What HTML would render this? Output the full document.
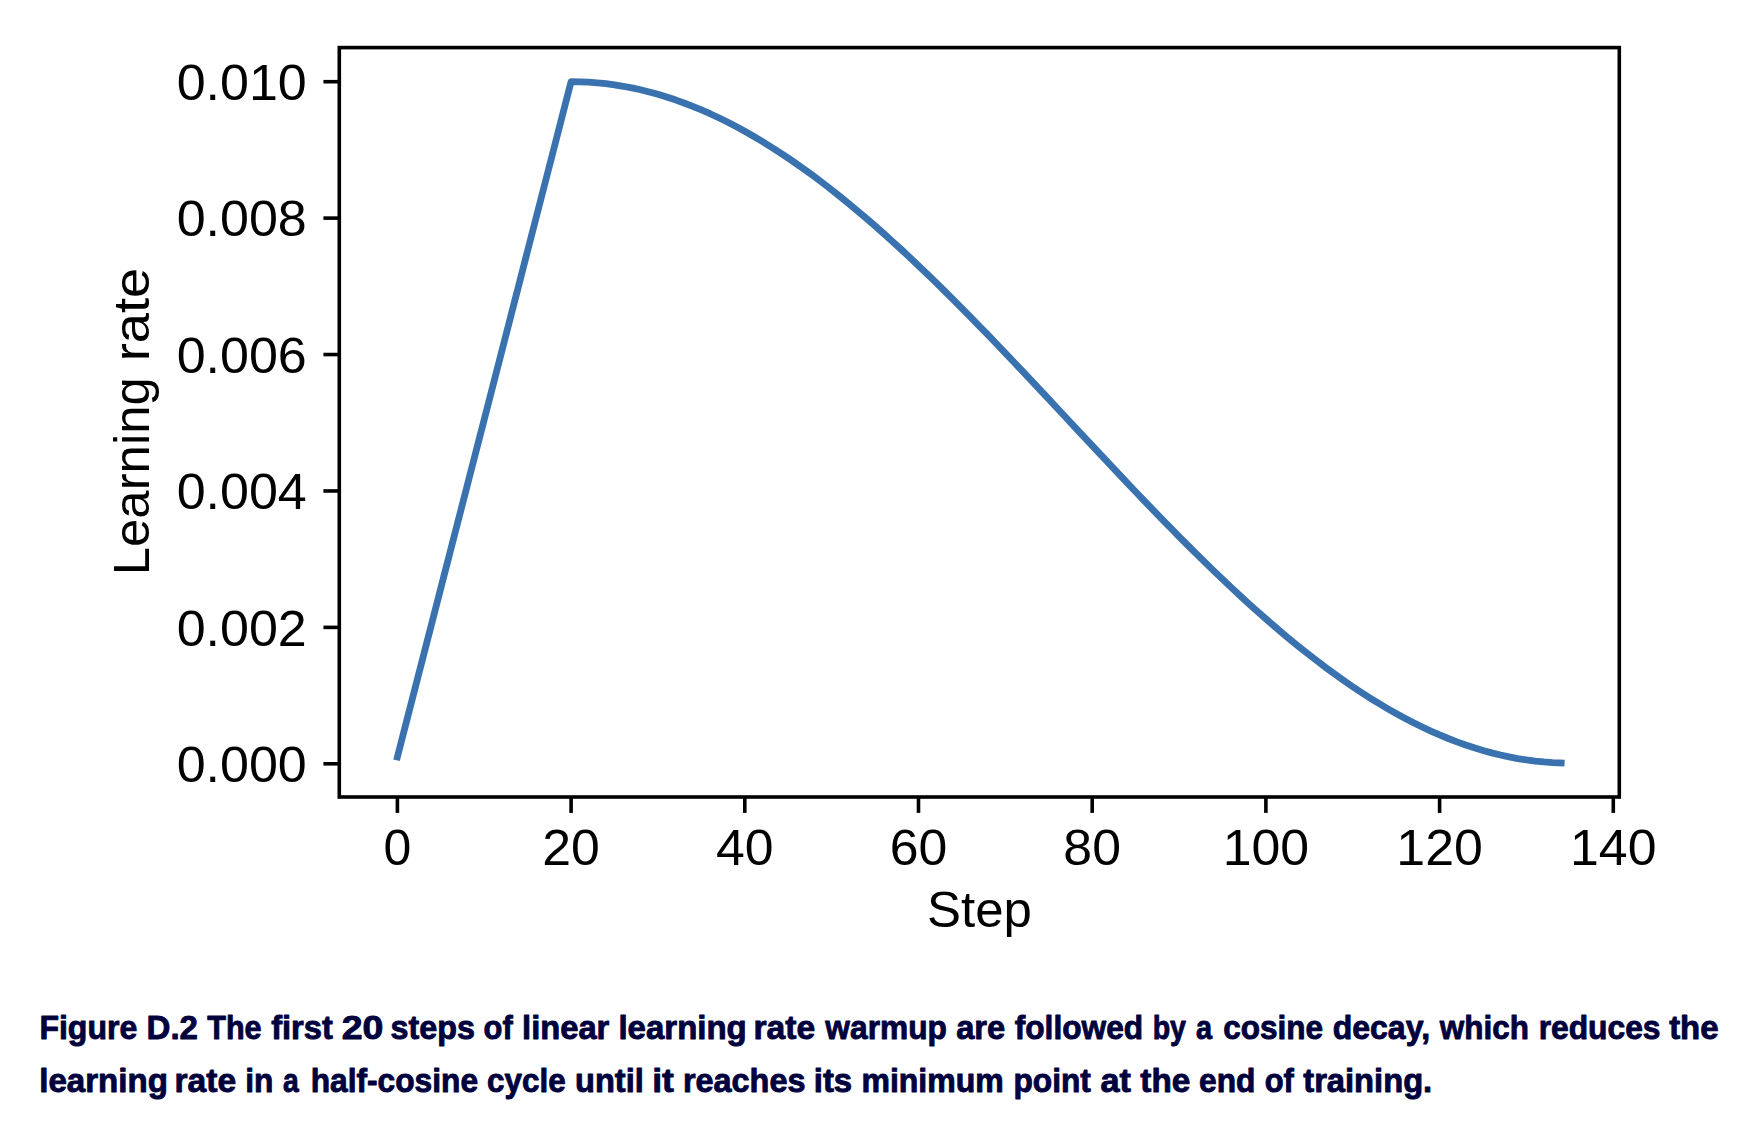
<!DOCTYPE html>
<html><head><meta charset="utf-8"><title>Figure D.2</title><style>
html,body{margin:0;padding:0;background:#fff;}
body{width:1752px;height:1136px;overflow:hidden;position:relative;}
svg{position:absolute;left:0;top:0;display:block;}
.t{font-family:"Liberation Sans",sans-serif;font-size:50px;fill:#000;}
.c{font-family:"Liberation Sans",sans-serif;font-size:34px;font-weight:bold;fill:#00003c;stroke:#00003c;stroke-width:0.9px;stroke-linejoin:round;}
</style></head><body>
<svg width="1752" height="1136" viewBox="0 0 1752 1136">
<polyline points="397.40,756.98 406.08,723.22 414.77,689.45 423.45,655.69 432.14,621.92 440.82,588.16 449.51,554.40 458.19,520.63 466.88,486.87 475.56,453.10 484.25,419.34 492.93,385.58 501.62,351.81 510.30,318.05 518.99,284.28 527.67,250.52 536.36,216.76 545.04,182.99 553.73,149.23 562.41,115.46 571.10,81.70 579.78,81.83 588.47,82.21 597.15,82.84 605.84,83.73 614.52,84.87 623.21,86.27 631.89,87.91 640.58,89.80 649.26,91.95 657.95,94.33 666.63,96.97 675.32,99.84 684.00,102.96 692.69,106.32 701.37,109.91 710.06,113.73 718.74,117.79 727.43,122.07 736.11,126.57 744.80,131.30 753.48,136.24 762.17,141.40 770.85,146.77 779.54,152.34 788.22,158.12 796.91,164.09 805.59,170.25 814.28,176.61 822.96,183.14 831.64,189.86 840.33,196.75 849.01,203.80 857.70,211.02 866.38,218.40 875.07,225.93 883.75,233.61 892.44,241.42 901.12,249.37 909.81,257.46 918.49,265.66 927.18,273.98 935.86,282.41 944.55,290.95 953.23,299.59 961.92,308.31 970.60,317.12 979.29,326.01 987.97,334.98 996.66,344.00 1005.34,353.09 1014.03,362.23 1022.71,371.41 1031.40,380.63 1040.08,389.88 1048.77,399.16 1057.45,408.45 1066.14,417.76 1074.82,427.06 1083.51,436.37 1092.19,445.66 1100.88,454.94 1109.56,464.19 1118.25,473.41 1126.93,482.59 1135.62,491.73 1144.30,500.81 1152.99,509.84 1161.67,518.80 1170.36,527.69 1179.04,536.51 1187.73,545.23 1196.41,553.87 1205.10,562.40 1213.78,570.84 1222.47,579.16 1231.15,587.36 1239.84,595.44 1248.52,603.40 1257.21,611.21 1265.89,618.89 1274.57,626.42 1283.26,633.80 1291.94,641.02 1300.63,648.07 1309.31,654.96 1318.00,661.68 1326.68,668.21 1335.37,674.56 1344.05,680.73 1352.74,686.70 1361.42,692.48 1370.11,698.05 1378.79,703.42 1387.48,708.57 1396.16,713.52 1404.85,718.24 1413.53,722.75 1422.22,727.03 1430.90,731.09 1439.59,734.91 1448.27,738.50 1456.96,741.86 1465.64,744.97 1474.33,747.85 1483.01,750.48 1491.70,752.87 1500.38,755.01 1509.07,756.91 1517.75,758.55 1526.44,759.94 1535.12,761.09 1543.81,761.97 1552.49,762.61 1561.18,762.99" fill="none" stroke="#3972af" stroke-width="6.8" stroke-linejoin="round" stroke-linecap="square"/>
<rect x="339.3" y="47.6" width="1280.00" height="749.40" fill="none" stroke="#000" stroke-width="3.6" stroke-linejoin="miter"/>
<line x1="339.3" y1="81.70" x2="323.40" y2="81.70" stroke="#000" stroke-width="3.6"/>
<line x1="339.3" y1="218.12" x2="323.40" y2="218.12" stroke="#000" stroke-width="3.6"/>
<line x1="339.3" y1="354.54" x2="323.40" y2="354.54" stroke="#000" stroke-width="3.6"/>
<line x1="339.3" y1="490.96" x2="323.40" y2="490.96" stroke="#000" stroke-width="3.6"/>
<line x1="339.3" y1="627.38" x2="323.40" y2="627.38" stroke="#000" stroke-width="3.6"/>
<line x1="339.3" y1="763.80" x2="323.40" y2="763.80" stroke="#000" stroke-width="3.6"/>
<line x1="397.40" y1="797.0" x2="397.40" y2="812.90" stroke="#000" stroke-width="3.6"/>
<line x1="571.10" y1="797.0" x2="571.10" y2="812.90" stroke="#000" stroke-width="3.6"/>
<line x1="744.80" y1="797.0" x2="744.80" y2="812.90" stroke="#000" stroke-width="3.6"/>
<line x1="918.49" y1="797.0" x2="918.49" y2="812.90" stroke="#000" stroke-width="3.6"/>
<line x1="1092.19" y1="797.0" x2="1092.19" y2="812.90" stroke="#000" stroke-width="3.6"/>
<line x1="1265.89" y1="797.0" x2="1265.89" y2="812.90" stroke="#000" stroke-width="3.6"/>
<line x1="1439.59" y1="797.0" x2="1439.59" y2="812.90" stroke="#000" stroke-width="3.6"/>
<line x1="1613.29" y1="797.0" x2="1613.29" y2="812.90" stroke="#000" stroke-width="3.6"/>
<text class="t" x="306.80" y="99.90" text-anchor="end" textLength="130.10" lengthAdjust="spacingAndGlyphs">0.010</text>
<text class="t" x="306.80" y="236.32" text-anchor="end" textLength="130.10" lengthAdjust="spacingAndGlyphs">0.008</text>
<text class="t" x="306.80" y="372.74" text-anchor="end" textLength="130.10" lengthAdjust="spacingAndGlyphs">0.006</text>
<text class="t" x="306.80" y="509.16" text-anchor="end" textLength="130.10" lengthAdjust="spacingAndGlyphs">0.004</text>
<text class="t" x="306.80" y="645.58" text-anchor="end" textLength="130.10" lengthAdjust="spacingAndGlyphs">0.002</text>
<text class="t" x="306.80" y="782.00" text-anchor="end" textLength="130.10" lengthAdjust="spacingAndGlyphs">0.000</text>
<text class="t" x="397.40" y="865.00" text-anchor="middle" textLength="27.81" lengthAdjust="spacingAndGlyphs">0</text>
<text class="t" x="571.10" y="865.00" text-anchor="middle" textLength="57.60" lengthAdjust="spacingAndGlyphs">20</text>
<text class="t" x="744.80" y="865.00" text-anchor="middle" textLength="57.60" lengthAdjust="spacingAndGlyphs">40</text>
<text class="t" x="918.49" y="865.00" text-anchor="middle" textLength="57.60" lengthAdjust="spacingAndGlyphs">60</text>
<text class="t" x="1092.19" y="865.00" text-anchor="middle" textLength="57.60" lengthAdjust="spacingAndGlyphs">80</text>
<text class="t" x="1265.89" y="865.00" text-anchor="middle" textLength="86.45" lengthAdjust="spacingAndGlyphs">100</text>
<text class="t" x="1439.59" y="865.00" text-anchor="middle" textLength="86.45" lengthAdjust="spacingAndGlyphs">120</text>
<text class="t" x="1613.29" y="865.00" text-anchor="middle" textLength="86.45" lengthAdjust="spacingAndGlyphs">140</text>
<text class="t" x="979.50" y="927.00" text-anchor="middle" textLength="104.80" lengthAdjust="spacingAndGlyphs">Step</text>
<text class="t" transform="translate(149.30,0) rotate(-90)" y="0"><tspan x="-575.27" textLength="198.05" lengthAdjust="spacingAndGlyphs">Learning</tspan> <tspan x="-361.30" textLength="93.41" lengthAdjust="spacingAndGlyphs">rate</tspan></text>
<text class="c" y="1038.90"><tspan x="39.41" textLength="97.84" lengthAdjust="spacingAndGlyphs">Figure</tspan> <tspan x="146.54" textLength="51.43" lengthAdjust="spacingAndGlyphs">D.2</tspan> <tspan x="207.21" textLength="54.39" lengthAdjust="spacingAndGlyphs">The</tspan> <tspan x="271.19" textLength="61.66" lengthAdjust="spacingAndGlyphs">first</tspan> <tspan x="341.65" textLength="41.63" lengthAdjust="spacingAndGlyphs">20</tspan> <tspan x="390.61" textLength="84.36" lengthAdjust="spacingAndGlyphs">steps</tspan> <tspan x="483.54" textLength="29.15" lengthAdjust="spacingAndGlyphs">of</tspan> <tspan x="522.07" textLength="87.28" lengthAdjust="spacingAndGlyphs">linear</tspan> <tspan x="618.45" textLength="128.31" lengthAdjust="spacingAndGlyphs">learning</tspan> <tspan x="753.53" textLength="61.66" lengthAdjust="spacingAndGlyphs">rate</tspan> <tspan x="825.34" textLength="121.61" lengthAdjust="spacingAndGlyphs">warmup</tspan> <tspan x="956.19" textLength="49.07" lengthAdjust="spacingAndGlyphs">are</tspan> <tspan x="1014.71" textLength="128.53" lengthAdjust="spacingAndGlyphs">followed</tspan> <tspan x="1152.67" textLength="33.34" lengthAdjust="spacingAndGlyphs">by</tspan> <tspan x="1195.90" textLength="16.06" lengthAdjust="spacingAndGlyphs">a</tspan> <tspan x="1223.22" textLength="99.81" lengthAdjust="spacingAndGlyphs">cosine</tspan> <tspan x="1332.67" textLength="97.38" lengthAdjust="spacingAndGlyphs">decay,</tspan> <tspan x="1439.84" textLength="89.06" lengthAdjust="spacingAndGlyphs">which</tspan> <tspan x="1538.65" textLength="121.90" lengthAdjust="spacingAndGlyphs">reduces</tspan> <tspan x="1669.15" textLength="49.43" lengthAdjust="spacingAndGlyphs">the</tspan></text>
<text class="c" y="1091.90"><tspan x="39.24" textLength="128.62" lengthAdjust="spacingAndGlyphs">learning</tspan> <tspan x="174.54" textLength="61.56" lengthAdjust="spacingAndGlyphs">rate</tspan> <tspan x="245.24" textLength="28.18" lengthAdjust="spacingAndGlyphs">in</tspan> <tspan x="282.92" textLength="15.75" lengthAdjust="spacingAndGlyphs">a</tspan> <tspan x="310.64" textLength="167.40" lengthAdjust="spacingAndGlyphs">half-cosine</tspan> <tspan x="487.12" textLength="78.50" lengthAdjust="spacingAndGlyphs">cycle</tspan> <tspan x="575.03" textLength="68.73" lengthAdjust="spacingAndGlyphs">until</tspan> <tspan x="652.17" textLength="21.72" lengthAdjust="spacingAndGlyphs">it</tspan> <tspan x="683.02" textLength="122.36" lengthAdjust="spacingAndGlyphs">reaches</tspan> <tspan x="813.75" textLength="38.45" lengthAdjust="spacingAndGlyphs">its</tspan> <tspan x="861.44" textLength="142.30" lengthAdjust="spacingAndGlyphs">minimum</tspan> <tspan x="1013.46" textLength="77.37" lengthAdjust="spacingAndGlyphs">point</tspan> <tspan x="1100.45" textLength="30.42" lengthAdjust="spacingAndGlyphs">at</tspan> <tspan x="1140.34" textLength="49.94" lengthAdjust="spacingAndGlyphs">the</tspan> <tspan x="1199.11" textLength="56.33" lengthAdjust="spacingAndGlyphs">end</tspan> <tspan x="1264.74" textLength="29.15" lengthAdjust="spacingAndGlyphs">of</tspan> <tspan x="1303.25" textLength="128.95" lengthAdjust="spacingAndGlyphs">training.</tspan></text>
</svg>
</body></html>
